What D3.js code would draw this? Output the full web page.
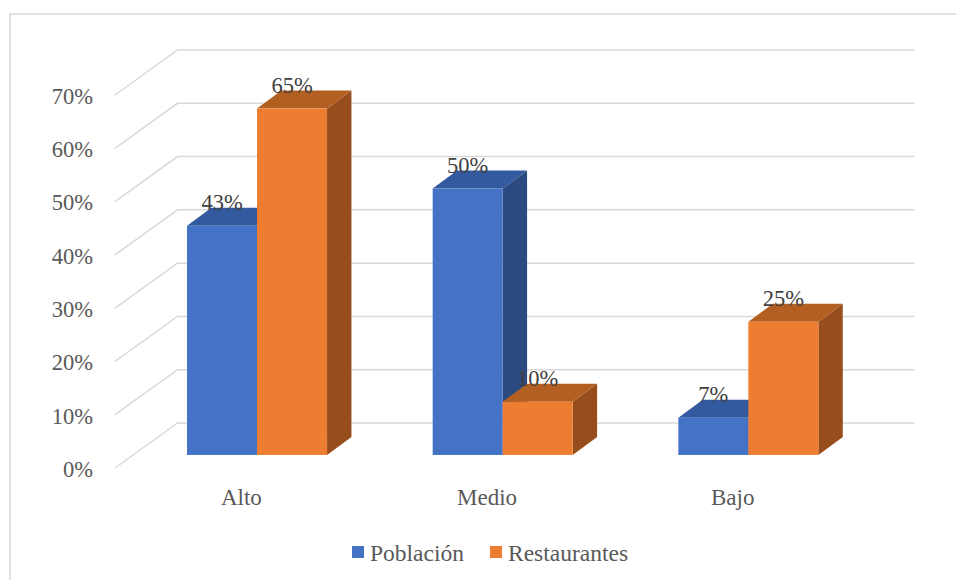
<!DOCTYPE html>
<html>
<head>
<meta charset="utf-8">
<script src="https://cdn.jsdelivr.net/npm/d3@7"></script>
<style>
  html, body { margin: 0; padding: 0; background: #fff; }
  svg { display: block; }
</style>
</head>
<body>
<svg id="chart" width="956" height="580"></svg>
<script>
// ---- data ----
const categories = ["Alto", "Medio", "Bajo"];
const seriesNames = ["Población", "Restaurantes"];
const poblacion = [0.43, 0.50, 0.07];
const restaurantes = [0.65, 0.10, 0.25];
const yTicks = [0, 0.1, 0.2, 0.3, 0.4, 0.5, 0.6, 0.7];

const colors = {
  "Población":   { front: "#4472C4", top: "#335A9E", side: "#2B4A80" },
  "Restaurantes": { front: "#ED7D31", top: "#B45F22", side: "#984D1C" }
};

const FONT = "Liberation Serif, Tinos, Times New Roman, Times, Nimbus Roman, Nimbus Roman No9 L, FreeSerif, Noto Serif, DejaVu Serif, serif";
const svg = d3.select("#chart").style("font-family", FONT);

// outer frame
svg.append("rect")
  .attr("x", 10).attr("y", 14)
  .attr("width", 960).attr("height", 600)
  .attr("fill", "none").attr("stroke", "#d9d9d9").attr("stroke-width", 1.5);

// ---- 3D projection ----
const depthDX = 61, depthDY = -45;       // full floor depth offset
const barD0 = 0.29, barD1 = 0.69;         // bar depth range (fraction)
const x0 = d3.scaleBand().domain(categories).range([116.5, 853.5])
  .paddingInner(0.43).paddingOuter(0.215);
const x1 = d3.scaleBand().domain(seriesNames).range([0, x0.bandwidth()]).padding(0);
const y = d3.scaleLinear().domain([0, 0.7]).range([468, 95]);
const P = (x, yy, d) => [x + depthDX * d, yy + depthDY * d];

const wallLeft = x0.range()[0];
const wallRight = x0.range()[1];

// gridlines: side wall diagonal + back wall horizontal
const grid = svg.append("g").attr("fill", "none")
  .attr("stroke", "#d9d9d9").attr("stroke-width", 1.5);
yTicks.forEach(t => {
  const a = P(wallLeft - 1.5, y(t), 0);
  const b = P(wallLeft, y(t), 1);
  const c = P(wallRight, y(t), 1);
  grid.append("path").attr("d", d3.line()([a, b, c]));
});

// y tick labels
svg.append("g").selectAll("text").data(yTicks).join("text")
  .attr("x", 93).attr("y", d => y(d) + 1)
  .attr("dy", "0.35em")
  .attr("text-anchor", "end")
  .style("font-family", FONT)
  .attr("font-size", 22.5).attr("fill", "#595959")
  .text(d => d3.format(".0%")(d));

// bars
const bars = [];
categories.forEach((c, i) => {
  bars.push({ cat: c, s: "Población", v: poblacion[i] });
  bars.push({ cat: c, s: "Restaurantes", v: restaurantes[i] });
});

const gBars = svg.append("g");
bars.forEach(b => {
  const xl = x0(b.cat) + x1(b.s);
  const xr = xl + x1.bandwidth();
  const yt = y(b.v), yb = y(0);
  const col = colors[b.s];
  const line = d3.line();
  // side face
  gBars.append("path")
    .attr("d", line([P(xr, yb, barD0), P(xr, yb, barD1), P(xr, yt, barD1), P(xr, yt, barD0)]) + "Z")
    .attr("fill", col.side);
  // top face
  gBars.append("path")
    .attr("d", line([P(xl, yt, barD0), P(xr, yt, barD0), P(xr, yt, barD1), P(xl, yt, barD1)]) + "Z")
    .attr("fill", col.top);
  // front face
  const f0 = P(xl, yt, barD0), f1 = P(xr, yb, barD0);
  gBars.append("rect")
    .attr("x", f0[0]).attr("y", f0[1])
    .attr("width", f1[0] - f0[0]).attr("height", f1[1] - f0[1])
    .attr("fill", col.front);
});

// data labels
svg.append("g").selectAll("text").data(bars).join("text")
  .attr("x", d => P(x0(d.cat) + x1(d.s) + x1.bandwidth() / 2, 0, barD0)[0])
  .attr("y", d => P(0, y(d.v), barD0)[1] - 16)
  .attr("text-anchor", "middle")
  .style("font-family", FONT)
  .attr("font-size", 22.5).attr("fill", "#404040")
  .text(d => d3.format(".0%")(d.v));

// category labels
svg.append("g").selectAll("text").data(categories).join("text")
  .attr("x", d => x0(d) + x0.bandwidth() / 2 + 2)
  .attr("y", 505)
  .attr("text-anchor", "middle")
  .style("font-family", FONT)
  .attr("font-size", 23).attr("fill", "#595959")
  .text(d => d);

// legend
const legendX = [352, 490];
const lg = svg.append("g");
seriesNames.forEach((s, i) => {
  lg.append("rect").attr("x", legendX[i]).attr("y", 546)
    .attr("width", 12).attr("height", 12).attr("fill", colors[s].front);
  lg.append("text").attr("x", legendX[i] + 18).attr("y", 561)
    .style("font-family", FONT)
    .attr("font-size", 23.5).attr("fill", "#595959").text(s);
});
</script>
</body>
</html>
